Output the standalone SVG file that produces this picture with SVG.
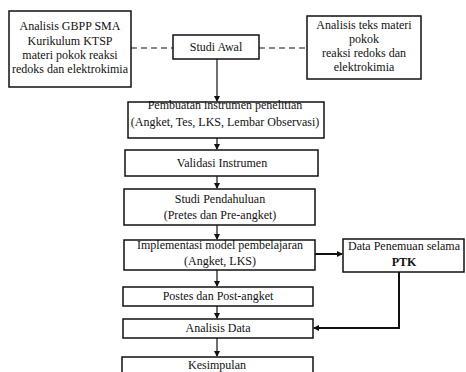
<svg xmlns="http://www.w3.org/2000/svg" width="466" height="372" viewBox="0 0 466 372">
<style>
.box{fill:#fff;stroke:#111;stroke-width:1.5}
text{font-family:'Liberation Serif','DejaVu Serif',serif;font-size:12px;fill:#111;text-anchor:middle}
.b{font-weight:bold}
.c{fill:none;stroke:#111;stroke-width:1.2}
.d{fill:none;stroke:#111;stroke-width:1.2;stroke-dasharray:6 4}
.k{fill:none;stroke:#111;stroke-width:2}
</style>
<defs>
<marker id="ah" markerWidth="6" markerHeight="6" refX="5" refY="3" orient="auto" markerUnits="userSpaceOnUse">
<path d="M0,0 L6,3 L0,6 Z" fill="#111"/>
</marker>
</defs>
<rect width="466" height="372" fill="#fff"/>
<g id="connectors">
<path class="d" d="M131,48 H173"/>
<path class="d" d="M259,48 H307"/>
<path class="c" d="M217,59 V101" marker-end="url(#ah)"/>
<path class="c" d="M217,138 V149" marker-end="url(#ah)"/>
<path class="c" d="M217,176 V188" marker-end="url(#ah)"/>
<path class="c" d="M217,225 V239" marker-end="url(#ah)"/>
<path class="c" d="M217,270 V286" marker-end="url(#ah)"/>
<path class="c" d="M217,306 V318" marker-end="url(#ah)"/>
<path class="c" d="M217,338 V356" marker-end="url(#ah)"/>
<path class="k" d="M315,254 H342" marker-end="url(#ah)"/>
<path class="k" d="M399,272 V328 H314" marker-end="url(#ah)"/>
</g>
<g font-family="Liberation Serif, serif">
<g id="n-gbpp">
<rect class="box" x="9" y="11" width="122" height="76"/>
<text x="70" y="30">Analisis GBPP SMA</text>
<text x="70" y="45">Kurikulum KTSP</text>
<text x="70" y="59">materi pokok reaksi</text>
<text x="70" y="73">redoks dan elektrokimia</text>
</g>
<g id="n-studi-awal">
<rect class="box" x="173" y="35" width="86" height="24"/>
<text x="216" y="51">Studi Awal</text>
</g>
<g id="n-teks">
<rect class="box" x="307" y="16" width="114" height="63"/>
<text x="364" y="29">Analisis teks materi</text>
<text x="364" y="43">pokok</text>
<text x="364" y="57">reaksi redoks dan</text>
<text x="364" y="71">elektrokimia</text>
</g>
<g id="n-pembuatan">
<rect class="box" x="128" y="102" width="196" height="36"/>
<text x="225" y="109">Pembuatan instrumen penelitian</text>
<text x="225" y="126">(Angket, Tes, LKS, Lembar Observasi)</text>
</g>
<g id="n-validasi">
<rect class="box" x="125" y="150" width="193" height="26"/>
<text x="222" y="167">Validasi Instrumen</text>
</g>
<g id="n-pendahuluan">
<rect class="box" x="124" y="189" width="191" height="36"/>
<text x="220" y="203">Studi Pendahuluan</text>
<text x="220" y="219">(Pretes dan Pre-angket)</text>
</g>
<g id="n-implementasi">
<rect class="box" x="124" y="240" width="191" height="30"/>
<text x="220" y="249">Implementasi model pembelajaran</text>
<text x="220" y="265">(Angket, LKS)</text>
</g>
<g id="n-data">
<rect class="box" x="343" y="239" width="121" height="33"/>
<text x="404" y="250">Data Penemuan selama</text>
<text class="b" x="404" y="266">PTK</text>
</g>
<g id="n-postes">
<rect class="box" x="123" y="287" width="190" height="19"/>
<text x="218" y="300">Postes dan Post-angket</text>
</g>
<g id="n-analisis">
<rect class="box" x="123" y="319" width="190" height="19"/>
<text x="218" y="332">Analisis Data</text>
</g>
<g id="n-kesimpulan">
<rect class="box" x="122" y="357" width="191" height="24"/>
<text x="217" y="369">Kesimpulan</text>
</g>
</g>
</svg>
